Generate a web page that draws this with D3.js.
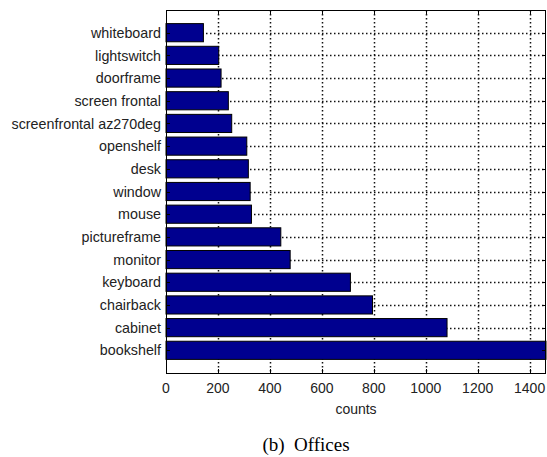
<!DOCTYPE html>
<html>
<head>
<meta charset="utf-8">
<script src="https://cdn.jsdelivr.net/npm/d3@7"></script>
<style>
  html, body { margin: 0; padding: 0; background: #fff; }
  svg { display: block; }
</style>
</head>
<body>
<svg id="chart" width="547" height="457"></svg>
<script>
// Object counts in office scenes, bottom row first
const categories = [
  "bookshelf", "cabinet", "chairback", "keyboard", "monitor",
  "pictureframe", "mouse", "window", "desk", "openshelf",
  "screenfrontal az270deg", "screen frontal", "doorframe", "lightswitch", "whiteboard"
];
const counts = [1463, 1082, 795, 710, 478, 442, 329, 324, 317, 311, 253, 240, 212, 203, 144];
const xTicks = [0, 200, 400, 600, 800, 1000, 1200, 1400];
const xLabel = "counts";
const caption = "(b)  Offices";

const svg = d3.select("#chart");
const plotL = 166, plotR = 546, plotT = 10, plotB = 373;

const x = d3.scaleLinear().domain([0, d3.max(counts)]).range([plotL, plotR]);
// row positions 1..n, with half-step margins like a classic barh layout
const y = d3.scaleLinear().domain([0, categories.length + 1]).range([plotB, plotT]);
const barH = 0.8 * (y(0) - y(1));

const ink = "#222";

// dotted grid
const grid = svg.append("g")
  .attr("stroke", "#111")
  .attr("stroke-width", 1.5)
  .attr("stroke-dasharray", "1.5,2.5");
grid.selectAll("line.gx").data(xTicks.filter(d => d > 0)).join("line")
  .attr("class", "gx")
  .attr("x1", d => Math.round(x(d)) + 0.5)
  .attr("x2", d => Math.round(x(d)) + 0.5)
  .attr("y1", plotT).attr("y2", plotB);
grid.selectAll("line.gy").data(categories).join("line")
  .attr("class", "gy")
  .attr("x1", plotL).attr("x2", plotR)
  .attr("y1", (d, i) => Math.round(y(i + 1)) + 0.5)
  .attr("y2", (d, i) => Math.round(y(i + 1)) + 0.5);

// bars
svg.append("g").selectAll("rect").data(counts).join("rect")
  .attr("x", x(0))
  .attr("y", (d, i) => y(i + 1) - barH / 2)
  .attr("width", d => x(d) - x(0))
  .attr("height", barH)
  .attr("fill", "#00008f")
  .attr("stroke", "#000")
  .attr("stroke-width", 1);

// inward ticks on all four sides
const tickLen = 4;
const ticks = svg.append("g").attr("stroke", "#000").attr("stroke-width", 1);
xTicks.forEach(t => {
  const px = Math.round(x(t)) + 0.5;
  ticks.append("line").attr("x1", px).attr("x2", px).attr("y1", plotB).attr("y2", plotB - tickLen);
  ticks.append("line").attr("x1", px).attr("x2", px).attr("y1", plotT).attr("y2", plotT + tickLen);
});
categories.forEach((c, i) => {
  const py = Math.round(y(i + 1)) + 0.5;
  ticks.append("line").attr("x1", plotR).attr("x2", plotR - tickLen).attr("y1", py).attr("y2", py);
  ticks.append("line").attr("x1", plotL).attr("x2", plotL + tickLen).attr("y1", py).attr("y2", py);
});

// axes box
svg.append("rect")
  .attr("x", plotL + 0.5).attr("y", plotT + 0.5)
  .attr("width", plotR - plotL - 1).attr("height", plotB - plotT)
  .attr("fill", "none").attr("stroke", "#000").attr("stroke-width", 1);

// category labels
svg.append("g").selectAll("text").data(categories).join("text")
  .attr("x", plotL - 5)
  .attr("y", (d, i) => y(i + 1))
  .attr("dy", "0.36em")
  .attr("text-anchor", "end")
  .attr("font-family", "Liberation Sans, Arial, sans-serif")
  .attr("font-size", 14.3)
  .attr("fill", ink)
  .text(d => d);

// x tick labels
svg.append("g").selectAll("text").data(xTicks).join("text")
  .attr("x", d => x(d))
  .attr("y", 393)
  .attr("text-anchor", "middle")
  .attr("font-family", "Liberation Sans, Arial, sans-serif")
  .attr("font-size", 14)
  .attr("fill", ink)
  .text(d => d);

// x axis title
svg.append("text")
  .attr("x", (plotL + plotR) / 2)
  .attr("y", 414)
  .attr("text-anchor", "middle")
  .attr("font-family", "Liberation Sans, Arial, sans-serif")
  .attr("font-size", 14)
  .attr("fill", ink)
  .text(xLabel);

// caption
svg.append("text")
  .attr("x", 306)
  .attr("y", 451)
  .attr("text-anchor", "middle")
  .attr("font-family", "Liberation Serif, Times New Roman, serif")
  .attr("font-size", 19)
  .attr("fill", "#000")
  .style("white-space", "pre")
  .text(caption);
</script>
</body>
</html>
